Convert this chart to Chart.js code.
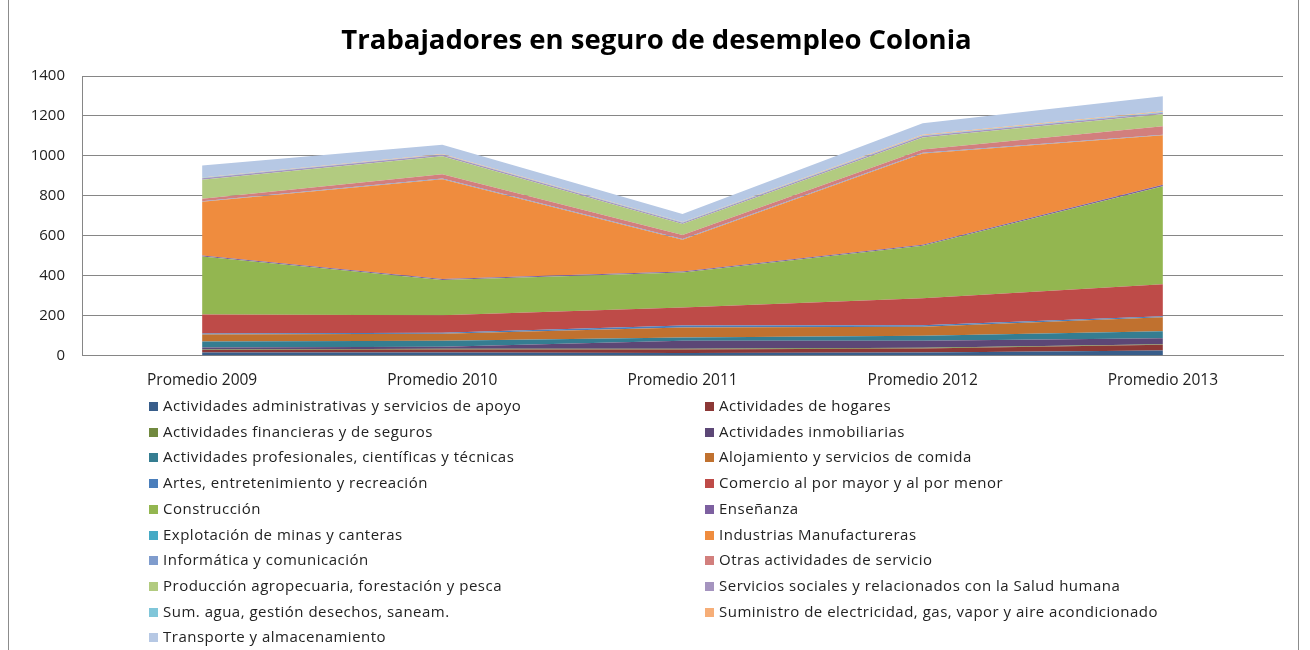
<!DOCTYPE html>
<html>
<head>
<meta charset="utf-8">
<script src="https://cdn.jsdelivr.net/npm/chart.js@4.4.0/dist/chart.umd.min.js"></script>
<style>
  html, body { margin: 0; padding: 0; background: #fff; }
  #wrap { position: relative; width: 1310px; height: 650px; overflow: hidden; font-family: "Open Sans", sans-serif; }
  #frame { position: absolute; left: 8px; top: -2px; width: 1291px; height: 660px; border: 1px solid #8c8c8c; box-sizing: border-box; }
  #cbox { position: absolute; left: 0; top: 0; width: 1310px; height: 410px; }
  #legend { position: absolute; left: 0; top: 0; width: 1310px; height: 650px; pointer-events: none; }
  .li { position: absolute; height: 20px; line-height: 20px; font-size: 15px; letter-spacing: 0.5px; color: #222; white-space: nowrap; }
  .sw { display: inline-block; width: 9px; height: 9px; margin-right: 5px; vertical-align: 0px; }
</style>
</head>
<body>
<div id="wrap">
  <div id="frame"></div>
  <div id="cbox"><canvas id="c"></canvas></div>
  <div id="legend"></div>
</div>
<script>
const categories = ["Promedio 2009", "Promedio 2010", "Promedio 2011", "Promedio 2012", "Promedio 2013"];
const yTicks = [0, 200, 400, 600, 800, 1000, 1200, 1400];

const seriesNames = [
  "Actividades administrativas y servicios de apoyo",
  "Actividades de hogares",
  "Actividades financieras y de seguros",
  "Actividades inmobiliarias",
  "Actividades profesionales, científicas y técnicas",
  "Alojamiento y servicios de comida",
  "Artes, entretenimiento y recreación",
  "Comercio al por mayor y al por menor",
  "Construcción",
  "Enseñanza",
  "Explotación de minas y canteras",
  "Industrias Manufactureras",
  "Informática y comunicación",
  "Otras actividades de servicio",
  "Producción agropecuaria, forestación y pesca",
  "Servicios sociales y relacionados con la Salud humana",
  "Sum. agua, gestión desechos, saneam.",
  "Suministro de electricidad, gas, vapor y aire acondicionado",
  "Transporte y almacenamiento"
];

const administrativas = [15, 15, 12, 15, 25];
const hogares        = [12, 15, 18, 20, 28];
const financieras    = [3, 3, 3, 3, 3];
const inmobiliarias  = [10, 10, 40, 35, 30];
const profesionales  = [30, 30, 17, 25, 35];
const alojamiento    = [35, 35, 50, 45, 70];
const artes          = [5, 5, 10, 8, 5];
const comercio       = [95, 88, 90, 135, 161];
const construccion   = [290, 177, 175, 263, 490];
const ensenanza      = [5, 5, 5, 5, 8];
const explotacion    = [0, 0, 0, 0, 0];
const industrias     = [270, 500, 160, 458, 248];
const informatica    = [3, 3, 3, 3, 3];
const otras          = [12, 22, 20, 17, 42];
const produccion     = [95, 90, 55, 60, 60];
const serviciosSoc   = [8, 7, 7, 7, 8];
const agua           = [2, 2, 2, 3, 4];
const electricidad   = [2, 2, 2, 3, 3];
const transporte     = [60, 46, 40, 58, 76];

const seriesValues = [administrativas, hogares, financieras, inmobiliarias, profesionales, alojamiento, artes,
  comercio, construccion, ensenanza, explotacion, industrias, informatica, otras, produccion,
  serviciosSoc, agua, electricidad, transporte];

const seriesColors = [
  "#385D8A", "#8C3836", "#71893F", "#5C4776", "#357D91", "#C0712F",
  "#4A7EBB", "#BE4B48", "#93B650", "#7D60A0", "#46AAC5", "#EF8C3E",
  "#7F9CCD", "#D27F7D", "#B2CB80", "#A594BF", "#80C6D9", "#F6AE78",
  "#B6C8E4"
];

const datasets = seriesNames.map((name, i) => ({
  label: name,
  data: seriesValues[i],
  backgroundColor: seriesColors[i],
  borderColor: seriesColors[i],
  borderWidth: 0,
  pointRadius: 0,
  tension: 0,
  fill: i === 0 ? 'origin' : '-1'
}));

new Chart(document.getElementById('c'), {
  type: 'line',
  data: { labels: categories, datasets },
  options: {
    responsive: true,
    maintainAspectRatio: false,
    animation: false,
    layout: { padding: { left: 30, right: 27, top: 10, bottom: 12 } },
    plugins: {
      legend: { display: false },
      tooltip: { enabled: false },
      title: {
        display: true,
        text: "Trabajadores en seguro de desempleo Colonia",
        color: "#000",
        font: { family: "Open Sans", size: 27.5, weight: "bold" },
        padding: { top: 15, bottom: 18 }
      }
    },
    scales: {
      x: {
        offset: true,
        grid: { display: false },
        border: { display: true, color: "#868686" },
        ticks: { color: "#222", font: { family: "Open Sans", size: 15.5 }, padding: 8, maxRotation: 0 }
      },
      y: {
        stacked: true,
        min: 0, max: 1400,
        afterBuildTicks: (axis) => { axis.ticks = yTicks.map(v => ({ value: v })); },
        afterFit: (axis) => { axis.width = 52; },
        grid: { color: "#868686", drawTicks: false },
        border: { display: true, color: "#868686" },
        ticks: { color: "#222", font: { family: "Open Sans", size: 15 }, padding: 17, callback: (v) => String(v) }
      }
    }
  }
});

const leg = document.getElementById('legend');
seriesNames.forEach((name, i) => {
  const col = i % 2, row = Math.floor(i / 2);
  const d = document.createElement('div');
  d.className = 'li';
  d.style.left = (col === 0 ? 149 : 705) + 'px';
  d.style.top = (395 + row * 25.7) + 'px';
  d.innerHTML = '<span class="sw" style="background:' + seriesColors[i] + '"></span>';
  d.appendChild(document.createTextNode(name));
  leg.appendChild(d);
});
</script>
</body>
</html>
